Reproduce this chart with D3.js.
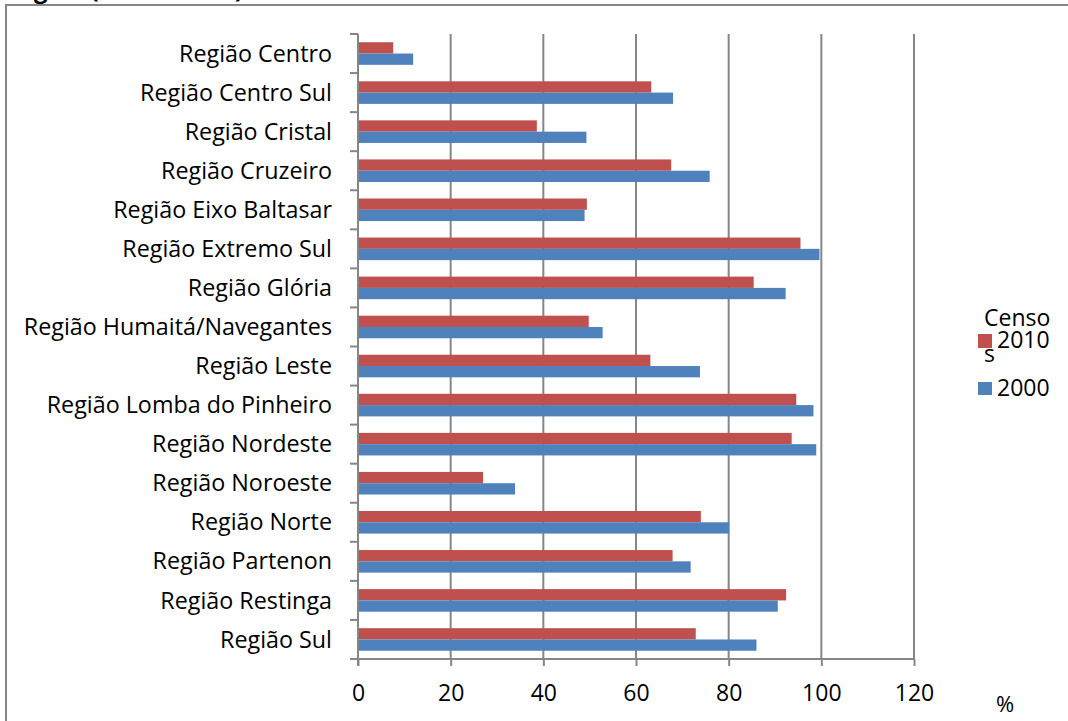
<!DOCTYPE html>
<html>
<head>
<meta charset="utf-8">
<script src="https://cdn.jsdelivr.net/npm/d3@7"></script>
<style>
  html, body { margin: 0; padding: 0; background: #fff; }
  svg { display: block; }
  text { font-family: "Open Sans", "Noto Sans", sans-serif; fill: #000; }
</style>
</head>
<body>
<svg id="chart" width="1068" height="721"></svg>
<script>
// Regiões de Porto Alegre, percentuais por censo
const regioes = [
  "Região Centro", "Região Centro Sul", "Região Cristal", "Região Cruzeiro",
  "Região Eixo Baltasar", "Região Extremo Sul", "Região Glória",
  "Região Humaitá/Navegantes", "Região Leste", "Região Lomba do Pinheiro",
  "Região Nordeste", "Região Noroeste", "Região Norte", "Região Partenon",
  "Região Restinga", "Região Sul"
];
const censo2010 = [7.6, 63.3, 38.6, 67.6, 49.4, 95.5, 85.4, 49.8, 63.1, 94.6, 93.6, 27.0, 74.0, 67.9, 92.4, 72.9];
const censo2000 = [11.9, 68.0, 49.3, 75.9, 48.9, 99.6, 92.3, 52.8, 73.8, 98.3, 98.9, 33.9, 80.1, 71.8, 90.6, 86.0];
const series = ["2010", "2000"];
const xTicks = [0, 20, 40, 60, 80, 100, 120];
const titulo = "Região (2000 e 2010)";

const cores = { "2010": "#C0504D", "2000": "#4F81BD" };
const eixoCor = "#868686";

const svg = d3.select("#chart");

// Title, mostly above the visible area
svg.append("text")
  .attr("x", 4).attr("y", -2)
  .style("font-weight", "bold").style("font-size", "24px")
  .text(titulo);

// Chart frame
svg.append("rect")
  .attr("x", 6).attr("y", 5).attr("width", 1100).attr("height", 760)
  .attr("fill", "none").attr("stroke", eixoCor).attr("stroke-width", 2);

const plot = { left: 358, right: 914, top: 34, bottom: 659 };

const x = d3.scaleLinear().domain([0, 120]).range([plot.left, plot.right]);
const y = d3.scaleBand().domain(regioes).range([plot.top, plot.bottom]).padding(0);
const ySub = d3.scaleBand().domain(series).range([0, y.bandwidth()])
  .paddingInner(0).paddingOuter(0.73);

// Vertical gridlines
svg.append("g").selectAll("line")
  .data(xTicks.filter(t => t > 0))
  .join("line")
  .attr("x1", d => x(d)).attr("x2", d => x(d))
  .attr("y1", plot.top).attr("y2", plot.bottom)
  .attr("stroke", eixoCor).attr("stroke-width", 2);

// Bars
const rows = regioes.map((r, i) => ({ r, v: { "2010": censo2010[i], "2000": censo2000[i] } }));
const grp = svg.append("g").selectAll("g")
  .data(rows).join("g")
  .attr("transform", d => `translate(0,${y(d.r)})`);
grp.selectAll("rect")
  .data(d => series.map(s => ({ s, v: d.v[s] })))
  .join("rect")
  .attr("x", x(0))
  .attr("y", d => ySub(d.s))
  .attr("width", d => x(d.v) - x(0))
  .attr("height", ySub.bandwidth())
  .attr("fill", d => cores[d.s]);

// Bottom axis
const xAxis = svg.append("g")
  .attr("transform", `translate(0,${plot.bottom})`)
  .call(d3.axisBottom(x).tickValues(xTicks).tickSize(7).tickPadding(19));
xAxis.select(".domain").attr("stroke", eixoCor).attr("stroke-width", 2)
  .attr("d", `M${plot.left - 8},0H${plot.right}`);
xAxis.selectAll(".tick line").attr("stroke", eixoCor).attr("stroke-width", 2);
xAxis.selectAll(".tick text")
  .style("font-size", "23px").style("font-family", "'Open Sans', sans-serif")
  .attr("fill", "#000");

// Left axis with ticks on category boundaries
svg.append("line")
  .attr("x1", plot.left).attr("x2", plot.left)
  .attr("y1", plot.top).attr("y2", plot.bottom + 7)
  .attr("stroke", eixoCor).attr("stroke-width", 2);
svg.append("g").selectAll("line")
  .data(regioes)
  .join("line")
  .attr("x1", plot.left - 8).attr("x2", plot.left)
  .attr("y1", d => y(d)).attr("y2", d => y(d))
  .attr("stroke", eixoCor).attr("stroke-width", 2);

// Category labels
svg.append("g").selectAll("text")
  .data(regioes).join("text")
  .attr("x", 332)
  .attr("y", d => y(d) + y.bandwidth() / 2)
  .attr("dy", "0.35em")
  .attr("text-anchor", "end")
  .style("font-size", "23.3px")
  .text(d => d);

// Legend
const leg = svg.append("g");
leg.append("text").attr("x", 984).attr("y", 326).style("font-size", "23px").text("Censo");
leg.append("text").attr("x", 984).attr("y", 362).style("font-size", "23px").text("s");
leg.append("rect").attr("x", 978).attr("y", 334).attr("width", 14).attr("height", 14).attr("fill", cores["2010"]);
leg.append("text").attr("x", 997).attr("y", 348).style("font-size", "23px").text("2010");
leg.append("rect").attr("x", 978).attr("y", 382).attr("width", 14).attr("height", 13).attr("fill", cores["2000"]);
leg.append("text").attr("x", 997).attr("y", 396).style("font-size", "23px").text("2000");

// Unit label
svg.append("text").attr("x", 996).attr("y", 712).style("font-size", "22px").text("%");
</script>
</body>
</html>
